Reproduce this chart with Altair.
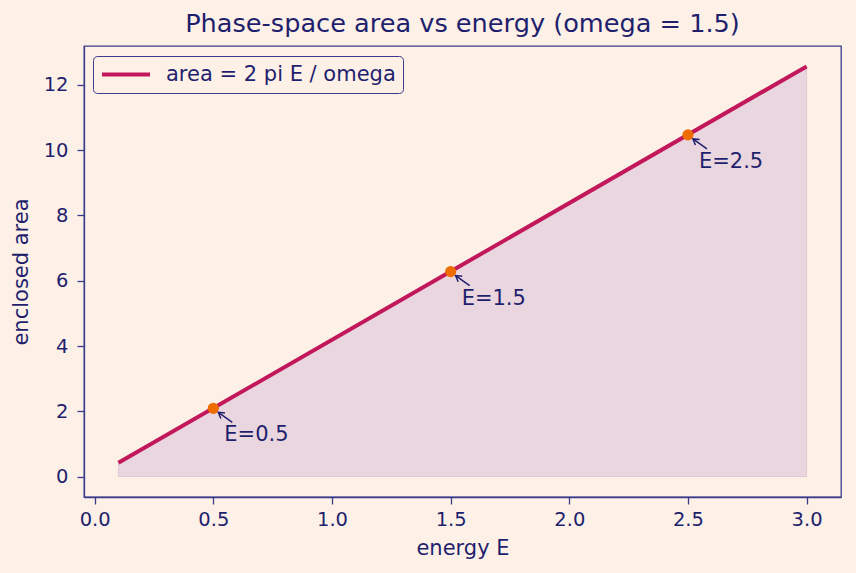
import altair as alt
import pandas as pd

# ---- data ----
energy_line = [0.1, 3.0]
area_line = [0.42, 12.57]
energy_marks = [0.5, 1.5, 2.5]
area_marks = [2.09, 6.28, 10.47]
mark_labels = ["E=0.5", "E=1.5", "E=2.5"]
series_name = "area = 2 pi E / omega"
x_ticks = [0.0, 0.5, 1.0, 1.5, 2.0, 2.5, 3.0]
y_ticks = [0, 2, 4, 6, 8, 10, 12]

line_df = pd.DataFrame({"E": energy_line, "A": area_line,
                        "series": [series_name] * len(energy_line)})
marks_df = pd.DataFrame({"E": energy_marks, "A": area_marks, "label": mark_labels})

# ---- styles ----
BG = "#fdf1e7"
TEXT = "#1f1f6e"
SPINE = "#3b3b8c"
CRIMSON = "#c2185b"
ORANGE = "#ef6c00"
FILL = "#ead6de"
FONT = "DejaVu Sans"

xs = alt.Scale(domain=[-0.045, 3.145], nice=False, zero=False)
ys = alt.Scale(domain=[-0.628, 13.195], nice=False, zero=False)

x = alt.X("E:Q", scale=xs,
          axis=alt.Axis(values=x_ticks, format=".1f", title="energy E"))
y = alt.Y("A:Q", scale=ys,
          axis=alt.Axis(values=y_ticks, format="d", title="enclosed area",
                        labelPadding=9, titlePadding=12))

area = alt.Chart(line_df).mark_area(
    color=FILL, opacity=1, stroke="#e2c8d3", strokeWidth=1
).encode(x=x, y=y, y2=alt.datum(0))

line = alt.Chart(line_df).mark_line(strokeWidth=4, strokeCap="butt").encode(
    x=x, y=y,
    color=alt.Color("series:N", scale=alt.Scale(range=[CRIMSON]),
                    legend=alt.Legend(title=None, orient="none",
                                      legendX=9, legendY=10,
                                      symbolType="stroke",
                                      symbolSize=2304,
                                      symbolStrokeWidth=4,
                                      clipHeight=23,
                                      labelOffset=14,
                                      labelLimit=400,
                                      padding=7,
                                      strokeColor=SPINE,
                                      cornerRadius=4,
                                      fillColor=BG,
                                      labelFontSize=21,
                                      labelFont=FONT,
                                      labelColor=TEXT)),
)

points = alt.Chart(marks_df).mark_circle(size=125, color=ORANGE, opacity=1).encode(x=x, y=y)

shaft = alt.Chart(marks_df).mark_rule(
    color=TEXT, strokeWidth=1.5,
    xOffset=5, yOffset=4, x2Offset=19, y2Offset=14
).encode(x=x, y=y, x2="E:Q", y2="A:Q")

head = alt.Chart(marks_df).mark_point(
    shape="M-1,-0.6L0,0L-1,0.6", filled=False, size=130, angle=217,
    xOffset=5, yOffset=4, strokeWidth=1.5, color=TEXT, opacity=1
).encode(x=x, y=y)

labels = alt.Chart(marks_df).mark_text(
    align="left", baseline="alphabetic", dx=11, dy=33,
    fontSize=21, font=FONT, color=TEXT
).encode(x=x, y=y, text="label:N")

chart = alt.layer(area, line, points, shaft, head, labels).properties(
    width=757, height=451,
    title=alt.TitleParams("Phase-space area vs energy (omega = 1.5)",
                          anchor="middle", fontSize=25.6, font=FONT,
                          fontWeight="normal", color=TEXT,
                          baseline="alphabetic", offset=13, dy=25),
    autosize=alt.AutoSizeParams(type="none"),
    padding={"left": 84, "top": 46, "right": 15, "bottom": 76},
    background=BG,
).configure_view(
    stroke=SPINE, strokeWidth=1.3, fill=BG
).configure_axis(
    grid=False, domainColor=SPINE, domainWidth=1.3,
    tickColor=SPINE, tickWidth=1.3, tickSize=7,
    labelColor=TEXT, labelFont=FONT, labelFontSize=19.5, labelPadding=6,
    titleColor=TEXT, titleFont=FONT, titleFontSize=21,
    titleFontWeight="normal", titlePadding=9
)

chart.save("out.html", embed_options={"renderer": "svg", "actions": False})
